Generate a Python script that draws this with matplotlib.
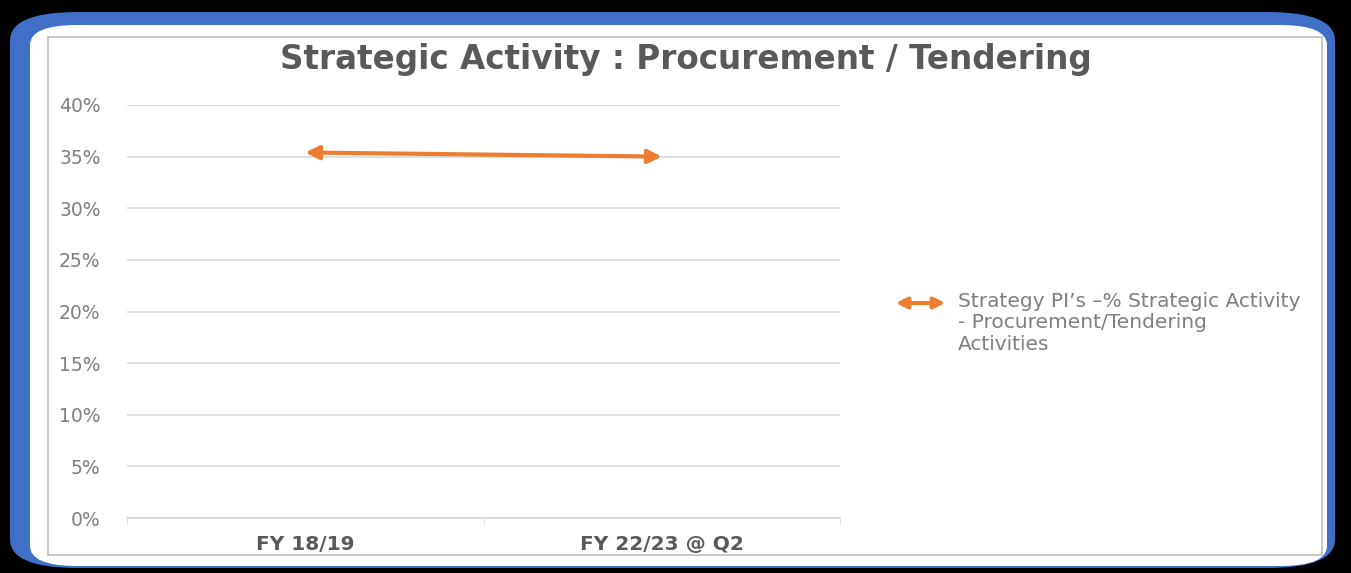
import matplotlib.pyplot as plt
from matplotlib.patches import FancyBboxPatch, Rectangle, FancyArrowPatch

categories = ['FY 18/19', 'FY 22/23 @ Q2']
values = [35.4, 35.0]
y_ticks = [0, 5, 10, 15, 20, 25, 30, 35, 40]
title = 'Strategic Activity : Procurement / Tendering'
series_name = 'Strategy PI\u2019s \u2013% Strategic Activity\n- Procurement/Tendering\nActivities'

orange = '#ED7D31'
grey_txt = '#595959'

W, H = 1351, 573
fig = plt.figure(figsize=(W / 100, H / 100), dpi=100, facecolor='black')

def px(x, y):
    return x / W, 1 - y / H

# blue frame and white panel
fig.patches.append(FancyBboxPatch(px(10, 568), 1325 / W, 556 / H,
                                  boxstyle='round,pad=0,rounding_size=0.05',
                                  transform=fig.transFigure, facecolor='#3F6FC6',
                                  edgecolor='none', zorder=-3))
fig.patches.append(FancyBboxPatch(px(30, 566), 1297 / W, 541 / H,
                                  boxstyle='round,pad=0,rounding_size=0.035',
                                  transform=fig.transFigure, facecolor='white',
                                  edgecolor='none', zorder=-2))
fig.patches.append(Rectangle(px(48, 555), 1274 / W, 518 / H, transform=fig.transFigure,
                             facecolor='none', edgecolor='#BFBFBF', lw=1.2, zorder=-1))

ax = fig.add_axes([127 / W, 1 - 518 / H, 713 / W, 413 / H])
ax.set_facecolor('none')

x = list(range(len(categories)))
ax.annotate('', xy=(x[1], values[1]), xytext=(x[0], values[0]),
            arrowprops=dict(arrowstyle='<|-|>', color=orange, lw=3,
                            mutation_scale=20, shrinkA=0, shrinkB=0))

ax.set_xlim(-0.5, 1.5)
ax.set_ylim(0, 40)
ax.set_yticks(y_ticks)
ax.set_yticklabels([f'{t}%' for t in y_ticks], color='#7F7F7F', fontsize=13.5)
ax.set_xticks(x)
ax.set_xticklabels(categories, fontsize=14.5, fontweight='bold', color=grey_txt)
ax.set_xticks([-0.5, 0.5, 1.5], minor=True)
ax.tick_params(axis='x', which='major', length=0, pad=12)
ax.tick_params(axis='x', which='minor', length=4, color='#D9D9D9')
ax.tick_params(axis='y', length=0, pad=19)
ax.grid(axis='y', color='#D9D9D9', lw=1.2)
ax.set_axisbelow(True)
for s in ['top', 'right', 'left']:
    ax.spines[s].set_visible(False)
ax.spines['bottom'].set_color('#D9D9D9')
ax.spines['bottom'].set_linewidth(1.2)

fig.text(686 / W, 1 - 60 / H, title, ha='center', va='center', fontsize=23.5,
         fontweight='bold', color=grey_txt)

# legend
fig.add_artist(FancyArrowPatch(
    px(893, 303), px(948, 303), transform=fig.transFigure, arrowstyle='<|-|>',
    color=orange, lw=3, mutation_scale=16))
fig.text(958 / W, 1 - 292 / H, series_name, ha='left', va='top', fontsize=14.5,
         color='#7F7F7F', linespacing=1.15)

fig.savefig('out.png', dpi=100, facecolor='black')
